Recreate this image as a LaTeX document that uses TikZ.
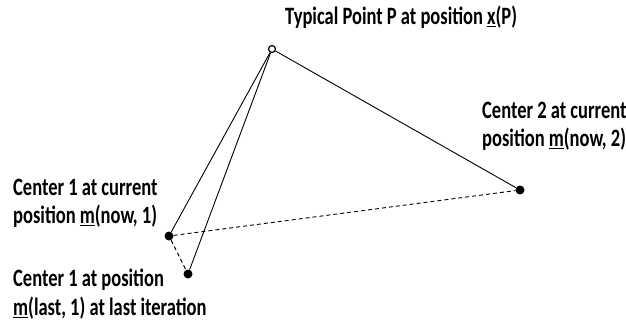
\documentclass[tikz,border=0pt]{standalone}
\usepackage{fontspec}
\setmainfont{Carlito}
\usepackage{tikz}
\usetikzlibrary{positioning, calc}

\begin{document}
\begin{tikzpicture}[
    x=1pt, y=-1pt,
    dotpt/.style={circle, fill=black, inner sep=0pt, minimum size=9pt},
    opendot/.style={circle, draw=black, fill=white, line width=1.2pt,
                    inner sep=0pt, minimum size=7pt},
    lbl/.style={anchor=west, align=left, inner sep=0pt,
                font=\fontsize{18.5}{21}\selectfont\bfseries,
                yscale=1.35, transform shape},
    link/.style={draw=black, line width=0.9pt},
  ]
    \useasboundingbox (0,0) rectangle (626,327);
    % points
    \node[opendot] (P) at (272,49) {};
    \node[dotpt] (C2) at (520,190) {};
    \node[dotpt] (C1now) at (169,236) {};
    \node[dotpt] (C1last) at (188,274) {};
    % labels
    \node[lbl] (Ptxt) at (285,17) {Typical Point P at position \underline{x}(P)};
    \node[lbl] (C2txt) at (482,126)
      {Center 2 at current\\position \underline{m}(now, 2)};
    \node[lbl] (C1nowtxt) at (13,203)
      {Center 1 at current\\position \underline{m}(now, 1)};
    \node[lbl] (C1lasttxt) at (13,294)
      {Center 1 at position\\\underline{m}(last, 1) at last iteration};
    % connectors
    \draw[link] (P) -- (C2);
    \draw[link] (P) -- (C1now);
    \draw[link] (P) -- (C1last);
    \draw[link, dash pattern=on 4pt off 3pt] (C1now) -- (C2);
    \draw[link, dash pattern=on 4pt off 3pt] (C1now) -- (C1last);
  \end{tikzpicture}
\end{document}
